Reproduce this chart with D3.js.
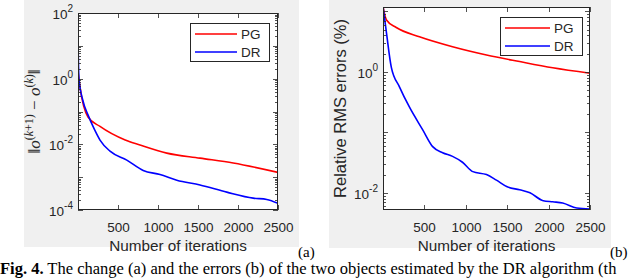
<!DOCTYPE html>
<html>
<head>
<meta charset="utf-8">
<script src="https://cdn.jsdelivr.net/npm/d3@7"></script>
<style>
  body { margin: 0; background: #fff; }
  svg { display: block; }
</style>
</head>
<body>
<script>
// iterations and values
var xTicks = [500, 1000, 1500, 2000, 2500];
var seriesNames = ["PG", "DR"];

// (a) change between iterates
var aPGIter = [1, 25, 125, 275, 590, 775, 1110, 1525, 1940, 2500];
var aPGVal  = [1.6, 0.55, 0.068, 0.035, 0.0135, 0.0095, 0.0054, 0.0038, 0.0027, 0.0014];
var aDRIter = [1, 12, 60, 125, 210, 275, 400, 610, 815, 1025, 1235, 1525, 1860, 2190, 2360, 2500];
var aDRVal  = [10, 1.0, 0.22, 0.079, 0.027, 0.0135, 0.0062, 0.0033, 0.0016, 0.0012, 0.00081, 0.00058, 0.00035, 0.00023, 0.00021, 0.00016];
var aYTicks = [1e-4, 1e-2, 1e0, 1e2];

// (b) relative RMS errors (%)
var bPGIter = [1, 42, 160, 440, 840, 1250, 1650, 2050, 2500];
var bPGVal  = [11.8, 7.2, 5.4, 3.8, 2.6, 1.9, 1.48, 1.17, 0.95];
var bDRIter = [1, 42, 100, 200, 320, 480, 600, 720, 840, 960, 1085, 1250, 1370, 1500, 1650, 1775, 1935, 2050, 2170, 2340, 2500];
var bDRVal  = [11.8, 4.4, 1.2, 0.56, 0.26, 0.11, 0.058, 0.046, 0.040, 0.032, 0.0224, 0.020, 0.0162, 0.0126, 0.0112, 0.0100, 0.0074, 0.0071, 0.0068, 0.0056, 0.0054];
var bYTicks = [1e-2, 1e0];

var width = 640, height = 278;
var colors = {PG: "#ff0000", DR: "#0000ff"};

var svg = d3.select("body").append("svg")
    .attr("width", width)
    .attr("height", height);

function drawPanel(o) {
    // matlab figure background
    svg.append("rect")
        .attr("x", o.bg[0]).attr("y", o.bg[1])
        .attr("width", o.bg[2]).attr("height", o.bg[3])
        .attr("fill", "#f0f0f0");

    var x = d3.scaleLinear().domain([0, 2500]).range([o.left, o.right]);
    var y = d3.scaleLog().domain(o.yDomain).range([o.bottom, o.top]);

    var g = svg.append("g");
    g.append("rect")
        .attr("x", o.left).attr("y", o.top)
        .attr("width", o.right - o.left).attr("height", o.bottom - o.top)
        .attr("fill", "#fff");

    var clipId = "clip" + o.tag;
    svg.append("clipPath").attr("id", clipId).append("rect")
        .attr("x", o.left).attr("y", o.top)
        .attr("width", o.right - o.left).attr("height", o.bottom - o.top);

    var line = d3.line()
        .x(function(d) { return x(d[0]); })
        .y(function(d) { return y(d[1]); })
        .curve(d3.curveMonotoneX);

    o.series.forEach(function(s) {
        var pts = s.iter.map(function(k, i) { return [k, s.val[i]]; });
        g.append("path")
            .attr("d", line(pts))
            .attr("clip-path", "url(#" + clipId + ")")
            .attr("fill", "none")
            .attr("stroke", colors[s.name])
            .attr("stroke-width", 1.6);
    });

    var axisColor = "#262626";
    // minor ticks on log axis
    var lo = Math.floor(Math.log10(o.yDomain[0])), hi = Math.ceil(Math.log10(o.yDomain[1]));
    for (var e = lo; e <= hi; e++) {
        for (var m = 1; m <= 9; m++) {
            var v = m * Math.pow(10, e);
            if (v < o.yDomain[0] || v > o.yDomain[1]) continue;
            var len = m === 1 ? 5 : 3;
            var yy = Math.round(y(v)) + 0.5;
            g.append("line").attr("x1", o.left).attr("x2", o.left + len)
                .attr("y1", yy).attr("y2", yy).attr("stroke", axisColor).attr("stroke-width", 0.8);
            g.append("line").attr("x1", o.right).attr("x2", o.right - len)
                .attr("y1", yy).attr("y2", yy).attr("stroke", axisColor).attr("stroke-width", 0.8);
        }
    }
    xTicks.forEach(function(t) {
        var xx = Math.round(x(t)) + 0.5;
        g.append("line").attr("x1", xx).attr("x2", xx)
            .attr("y1", o.bottom).attr("y2", o.bottom - 5).attr("stroke", axisColor).attr("stroke-width", 0.8);
        g.append("line").attr("x1", xx).attr("x2", xx)
            .attr("y1", o.top).attr("y2", o.top + 5).attr("stroke", axisColor).attr("stroke-width", 0.8);
        g.append("text")
            .attr("x", xx).attr("y", o.bottom + 22)
            .attr("text-anchor", "middle")
            .attr("font-family", "Liberation Sans, Arial, sans-serif")
            .attr("font-size", 13.5)
            .attr("fill", axisColor)
            .text(d3.format("d")(t));
    });

    o.yTicks.forEach(function(t) {
        var txt = g.append("text")
            .attr("x", o.left - 5).attr("y", y(t) + 6)
            .attr("text-anchor", "end")
            .attr("font-family", "Liberation Sans, Arial, sans-serif")
            .attr("font-size", 13.5)
            .attr("fill", axisColor);
        txt.append("tspan").text("10");
        txt.append("tspan").attr("dy", -7).attr("font-size", 10).text(Math.round(Math.log10(t)));
    });

    // box
    g.append("rect")
        .attr("x", o.left + 0.5).attr("y", o.top + 0.5)
        .attr("width", o.right - o.left - 1).attr("height", o.bottom - o.top - 1)
        .attr("fill", "none").attr("stroke", axisColor).attr("stroke-width", 1);

    // axis labels
    g.append("text")
        .attr("x", (o.left + o.right) / 2).attr("y", o.bottom + 41)
        .attr("text-anchor", "middle")
        .attr("font-family", "Liberation Sans, Arial, sans-serif")
        .attr("font-size", 15.3)
        .attr("fill", axisColor)
        .text("Number of iterations");

    var yl = g.append("text")
        .attr("transform", "translate(" + o.yLabelX + "," + (o.top + o.bottom) / 2 + ") rotate(-90)")
        .attr("text-anchor", "middle")
        .attr("font-family", "Liberation Sans, Arial, sans-serif")
        .attr("font-size", o.yLabelSize)
        .attr("fill", axisColor);
    o.yLabel(yl);

    // legend
    var lg = g.append("g").attr("transform", "translate(" + o.legend[0] + "," + o.legend[1] + ")");
    lg.append("rect")
        .attr("x", 0.5).attr("y", 0.5).attr("width", o.legend[2]).attr("height", 38)
        .attr("fill", "#fff").attr("stroke", axisColor).attr("stroke-width", 1);
    seriesNames.forEach(function(n, i) {
        var ly = 11 + i * 18;
        lg.append("line").attr("x1", 5).attr("x2", o.legend[2] - 32)
            .attr("y1", ly).attr("y2", ly)
            .attr("stroke", colors[n]).attr("stroke-width", 1.6);
        lg.append("text")
            .attr("x", o.legend[2] - 28).attr("y", ly + 5)
            .attr("font-family", "Liberation Sans, Arial, sans-serif")
            .attr("font-size", 13.5)
            .attr("fill", axisColor)
            .text(n);
    });

    svg.append("text")
        .attr("x", o.tagX).attr("y", 257)
        .attr("font-family", "Liberation Serif, 'DejaVu Serif', serif")
        .attr("font-size", 15)
        .attr("fill", "#000")
        .text("(" + o.tag + ")");
}

drawPanel({
    tag: "a", tagX: 298,
    bg: [24, 0, 275, 247],
    left: 78, right: 278, top: 13, bottom: 210,
    yDomain: [1e-4, 1e2], yTicks: aYTicks,
    series: [{name: "PG", iter: aPGIter, val: aPGVal}, {name: "DR", iter: aDRIter, val: aDRVal}],
    legend: [190, 23, 79],
    yLabelX: 40, yLabelSize: 17,
    yLabel: function(t) {
        t.attr("font-family", "Liberation Serif, 'DejaVu Serif', serif");
        t.append("tspan").text("\u2016");
        t.append("tspan").attr("font-style", "italic").text("o");
        t.append("tspan").attr("dy", -7).attr("font-size", 12).text("(");
        t.append("tspan").attr("font-size", 12).attr("font-style", "italic").text("k");
        t.append("tspan").attr("font-size", 12).text("+1)");
        t.append("tspan").attr("dy", 7).text(" \u2212 ");
        t.append("tspan").attr("font-style", "italic").text("o");
        t.append("tspan").attr("dy", -7).attr("font-size", 12).text("(");
        t.append("tspan").attr("font-size", 12).attr("font-style", "italic").text("k");
        t.append("tspan").attr("font-size", 12).text(")");
        t.append("tspan").attr("dy", 7).text("\u2016");
    }
});

drawPanel({
    tag: "b", tagX: 610,
    bg: [329, 0, 282, 248],
    left: 383, right: 590, top: 7, bottom: 210,
    yDomain: [0.0052, 11.8], yTicks: bYTicks,
    series: [{name: "PG", iter: bPGIter, val: bPGVal}, {name: "DR", iter: bDRIter, val: bDRVal}],
    legend: [500, 17, 82],
    yLabelX: 346, yLabelSize: 16.5,
    yLabel: function(t) { t.text("Relative RMS errors (%)"); }
});

// caption line below the figure
var cap = svg.append("text")
    .attr("x", 0).attr("y", 274)
    .attr("font-family", "Liberation Serif, 'DejaVu Serif', serif")
    .attr("font-size", 16.5)
    .attr("fill", "#000");
cap.append("tspan").attr("font-weight", "bold").text("Fig. 4.");
cap.append("tspan").text(" The change (a) and the errors (b) of the two objects estimated by the DR algorithm (th");
</script>
</body>
</html>
